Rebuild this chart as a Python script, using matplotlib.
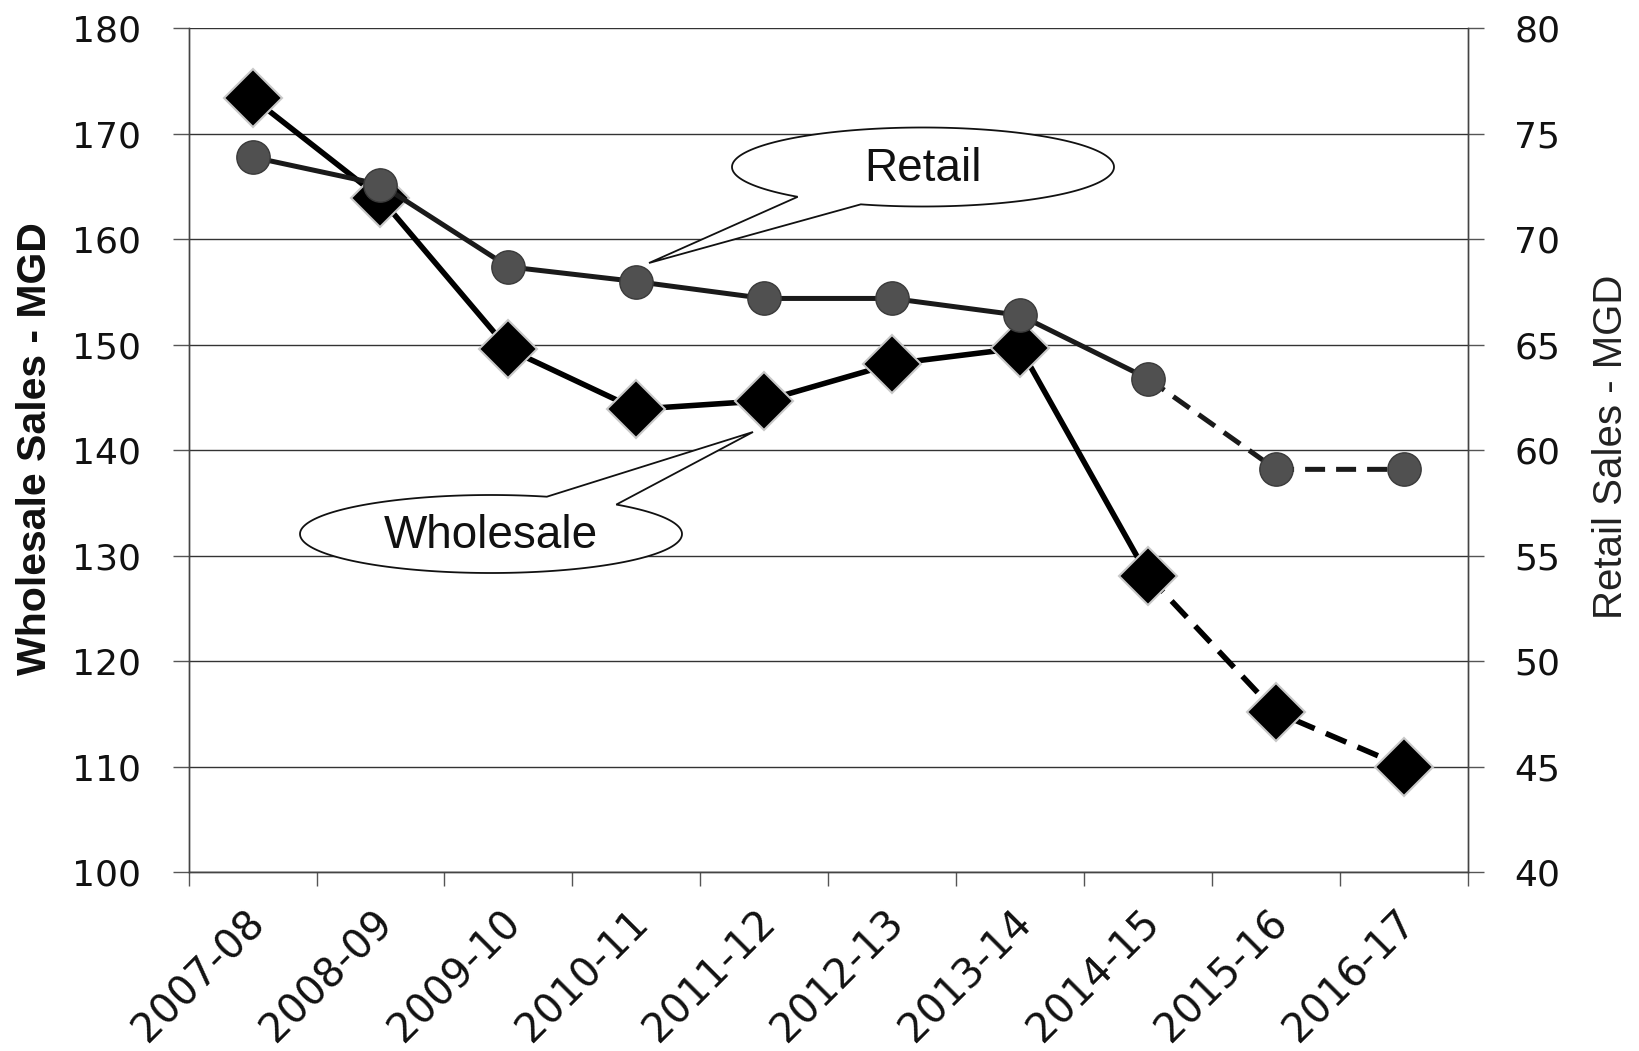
import numpy as np
import matplotlib
matplotlib.use('Agg')
import matplotlib.pyplot as plt
from matplotlib.patches import Polygon
from matplotlib.transforms import ScaledTranslation

#fiscal years
years = ['2007-08', '2008-09', '2009-10', '2010-11', '2011-12',
         '2012-13', '2013-14', '2014-15', '2015-16', '2016-17']
#wholesale sales, MGD (left axis)
wholesale = [173.4, 163.9, 149.6, 143.9, 144.7, 148.2, 149.7, 128.1, 115.2, 110.0]
#retail sales, MGD (right axis)
retail = [73.9, 72.6, 68.7, 68.0, 67.2, 67.2, 66.4, 63.4, 59.1, 59.1]
#index where the projection (dashed) part starts
proj = 7

left_ticks = [100, 110, 120, 130, 140, 150, 160, 170, 180]
right_ticks = [40, 45, 50, 55, 60, 65, 70, 75, 80]

W, H = 1640, 1051
fig = plt.figure(figsize=(W/100, H/100), dpi=100)
ax = fig.add_axes([0.115, 0.170, 0.780, 0.803])
ax2 = ax.twinx()

x = np.arange(len(years))
dash = (4, 2.2)

#wholesale: solid then dashed
ax.plot(x[:proj+1], wholesale[:proj+1], '-', color='black', lw=4.0, zorder=3)
ax.plot(x[proj:], wholesale[proj:], color='black', lw=4.0, dashes=dash, zorder=3)
ax.plot(x, wholesale, 'D', ms=30, color='black', mec='#c8c8c8', mew=1.5, zorder=4)

#retail on right axis
ax2.plot(x[:proj+1], retail[:proj+1], '-', color='#1a1a1a', lw=3.6, zorder=3)
ax2.plot(x[proj:], retail[proj:], color='#1a1a1a', lw=3.6, dashes=dash, zorder=3)
ax2.plot(x, retail, 'o', ms=24, color='#505050', mec='#3a3a3a', mew=1, zorder=4)

ax.set_xlim(-0.5, len(years) - 0.5)
ax.set_ylim(100, 180)
ax2.set_ylim(40, 80)

ax.set_yticks(left_ticks)
ax2.set_yticks(right_ticks)
ax.grid(axis='y', color='#333333', lw=1.0)
ax.set_axisbelow(True)

#x ticks at category boundaries, labels at centers
ax.set_xticks(np.arange(-0.5, len(years), 1.0))
ax.set_xticklabels([])
ax.set_xticks(x, minor=True)
ax.set_xticklabels(years, minor=True, rotation=45, ha='right', va='center',
                   rotation_mode='anchor', fontsize=29, color='#111111')
ax.tick_params(axis='x', which='major', length=10, width=1, color='#555555')
ax.tick_params(axis='x', which='minor', length=0, pad=32)
for lab in ax.get_xticklabels(minor=True):
    lab.set_transform(lab.get_transform() + ScaledTranslation(0.06, 0, fig.dpi_scale_trans))

ax.tick_params(axis='y', length=11.5, width=1, color='#555555', labelsize=26,
               pad=23, labelcolor='#111111')
ax2.tick_params(axis='y', length=11.5, width=1, color='#555555', labelsize=26,
                pad=22, labelcolor='#111111')

for a in (ax, ax2):
    for s in a.spines.values():
        s.set_color('#444444')
        s.set_linewidth(1.0)
    a.spines['top'].set_visible(False)

fig.text(35/W, 1 - 449/H, 'Wholesale Sales - MGD', rotation=90, ha='center', va='center',
         fontsize=29.5, fontweight='bold', family='Liberation Sans', color='#111111')
fig.text(1611/W, 1 - 447/H, 'Retail Sales - MGD', rotation=90, ha='center', va='center',
         fontsize=29, family='Liberation Sans', color='#222222')


def callout(cx, cy, a, b, t1, t2, tip, label):
    '''speech bubble in pixel coords (y down), tail in gap between angles t1 < t2'''
    t = np.radians(np.linspace(t2, t1 + 360, 200))
    px = cx + a*np.cos(t)
    py = cy + b*np.sin(t)
    pts = np.column_stack([px, py])
    pts = np.vstack([pts, [tip]])
    pts[:, 0] = pts[:, 0] / W
    pts[:, 1] = 1 - pts[:, 1] / H
    poly = Polygon(pts, closed=True, facecolor='white', edgecolor='#111111',
                   lw=1.3, transform=fig.transFigure, clip_on=False, zorder=6)
    ax2.add_patch(poly)
    fig.text(cx/W, 1 - (cy + 2)/H, label, ha='center', va='center', fontsize=33,
             family='Liberation Sans', color='#111111', zorder=7)


callout(923, 167, 191, 39.5, 109, 131, (649, 263), 'Retail')
callout(491, 534, 191, 39, -73, -49, (753, 432), 'Wholesale')

fig.savefig('out.png', dpi=100)
